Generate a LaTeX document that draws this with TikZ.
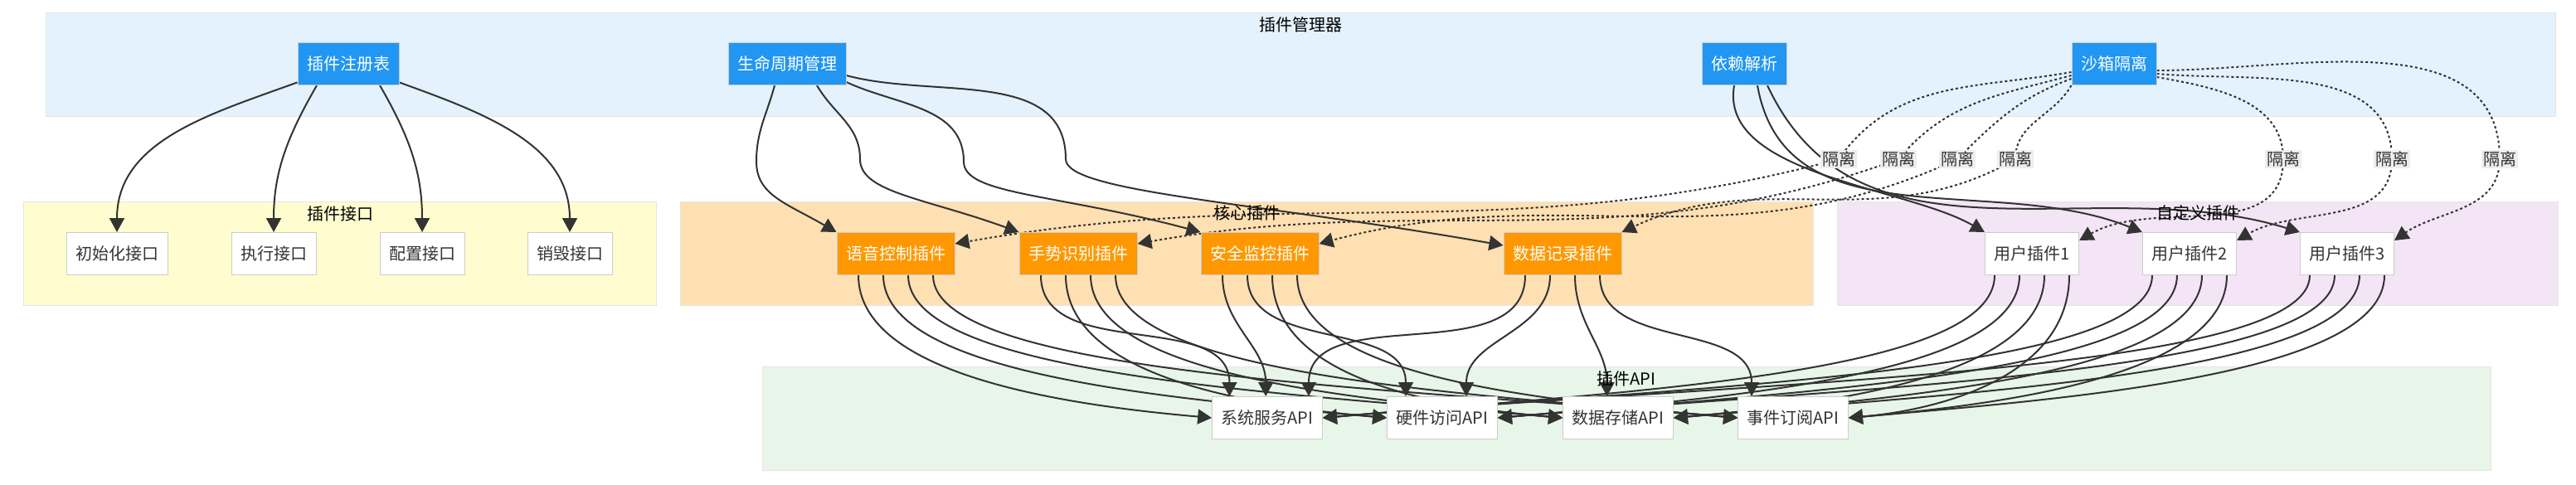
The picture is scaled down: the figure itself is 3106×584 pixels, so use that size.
\documentclass[tikz,border=0pt]{standalone}
\usepackage{fontspec}
\setmainfont{Noto Sans CJK SC}
\usetikzlibrary{arrows.meta}

\definecolor{mgrbg}{HTML}{E3F2FD}
\definecolor{itfbg}{HTML}{FFFDD0}
\definecolor{corebg}{HTML}{FFE0B2}
\definecolor{custbg}{HTML}{F3E5F5}
\definecolor{apibg}{HTML}{E8F5E9}
\definecolor{mgrblue}{HTML}{2196F3}
\definecolor{coreorange}{HTML}{FF9800}
\definecolor{linegray}{HTML}{333333}
\definecolor{lblbg}{HTML}{EDEDED}

\pgfdeclarelayer{bg}
\pgfdeclarelayer{edges}
\pgfsetlayers{bg,edges,main}

\tikzset{
  box/.style={draw=black!20, line width=0.5pt, minimum height=25.5pt, inner xsep=5.5pt, font=\fontsize{10}{12}\selectfont},
  mgr/.style={box, fill=mgrblue, text=white},
  core/.style={box, fill=coreorange, text=white},
  whitebox/.style={box, fill=white, text=linegray},
  cluster/.style={draw=black!10, line width=0.5pt},
  ctitle/.style={font=\fontsize{10}{12}\selectfont, text=black},
  arr/.style={draw=linegray, line width=1pt, -{Triangle[length=8.5pt,width=9pt]}},
  iso/.style={arr, dash pattern=on 1.5pt off 1.5pt},
  isolbl/.style={fill=lblbg, text=linegray, inner sep=1pt, font=\fontsize{10}{12}\selectfont}
}

\begin{document}
\begin{tikzpicture}[x=0.5pt, y=0.5pt]
\useasboundingbox (0,0) rectangle (3106,-584);

% groups
\begin{pgfonlayer}{bg}
  \draw[cluster, fill=mgrbg] (55,-15) rectangle (3081,-140);
  \draw[cluster, fill=itfbg] (28,-243) rectangle (791,-368);
  \draw[cluster, fill=corebg] (820,-243) rectangle (2186,-368);
  \draw[cluster, fill=custbg] (2215,-243) rectangle (3084,-368);
  \draw[cluster, fill=apibg] (919,-442) rectangle (3003,-567);
\end{pgfonlayer}
\node[ctitle] (tmgr) at (1568,-30) {插件管理器};
\node[ctitle] (titf) at (410,-258) {插件接口};
\node[ctitle] (tcore) at (1503,-257) {核心插件};
\node[ctitle] (tcust) at (2650,-257) {自定义插件};
\node[ctitle] (tapi) at (1961,-457) {插件API};

% manager
\node[mgr] (reg) at (420,-77) {插件注册表};
\node[mgr] (lc) at (949,-77) {生命周期管理};
\node[mgr] (dep) at (2103,-77) {依赖解析};
\node[mgr] (sb) at (2549,-77) {沙箱隔离};

% interfaces
\node[whitebox] (ini) at (141,-306) {初始化接口};
\node[whitebox] (exe) at (330,-306) {执行接口};
\node[whitebox] (cfg) at (509,-306) {配置接口};
\node[whitebox] (des) at (687,-306) {销毁接口};

% plugins
\node[core] (vc) at (1080,-306) {语音控制插件};
\node[core] (gs) at (1300,-306) {手势识别插件};
\node[core] (sm) at (1519,-306) {安全监控插件};
\node[core] (dr) at (1884,-306) {数据记录插件};
\node[whitebox] (u1) at (2450,-306) {用户插件1};
\node[whitebox] (u2) at (2640,-306) {用户插件2};
\node[whitebox] (u3) at (2830,-306) {用户插件3};

% apis
\node[whitebox] (sys) at (1528,-504) {系统服务API};
\node[whitebox] (hw) at (1739,-504) {硬件访问API};
\node[whitebox] (st) at (1951,-504) {数据存储API};
\node[whitebox] (ev) at (2162,-504) {事件订阅API};

% isolation labels
\node[isolbl] (l1) at (2217,-192) {隔离};
\node[isolbl] (l2) at (2289,-192) {隔离};
\node[isolbl] (l3) at (2360,-192) {隔离};
\node[isolbl] (l4) at (2430,-192) {隔离};
\node[isolbl] (r1) at (2753,-192) {隔离};
\node[isolbl] (r2) at (2884,-192) {隔离};
\node[isolbl] (r3) at (3014,-192) {隔离};

% bends of the lifecycle edges
\coordinate (bvc) at (912,-195);
\coordinate (bgs) at (1037,-192);
\coordinate (bsm) at (1162,-195);
\coordinate (bdr) at (1285,-192);

\begin{pgfonlayer}{edges}
  \draw[arr] (reg) to[out=200,in=90] (ini);
  \draw[arr] ([xshift=-19pt]reg.south) to[out=-120,in=90] (exe);
  \draw[arr] ([xshift=19pt]reg.south) to[out=-60,in=90] (cfg);
  \draw[arr] (reg) to[out=-20,in=90] (des);

  \draw[arr] ([xshift=-7.5pt]lc.south) to[out=-105,in=90] (bvc) to[out=-90,in=150,out distance=20pt,in distance=35pt] (vc.north west);
  \draw[arr] ([xshift=18pt]lc.south) to[out=-60,in=90] (bgs) to[out=-90,in=160,out distance=20pt,in distance=60pt] (gs.north west);
  \draw[arr] ([yshift=-11pt]lc.east) to[out=-25,in=90] (bsm) to[out=-90,in=165,out distance=20pt,in distance=90pt] (sm.north west);
  \draw[arr] ([yshift=-7pt]lc.east) to[out=-15,in=90] (bdr) to[out=-90,in=170,out distance=20pt,in distance=150pt] ([yshift=5pt]dr.west);

  \draw[arr] ([xshift=-6pt]dep.south) to[out=-100,in=150,looseness=0.8] (u1.north west);
  \draw[arr] ([xshift=8pt]dep.south) to[out=-80,in=158] (u2.north west);
  \draw[arr] ([xshift=14pt]dep.south) to[out=-65,in=163] (u3.north west);

  \draw[iso] ([yshift=-5pt]sb.west) to[out=190,in=55] (l1.center) to[out=195,in=10] ([yshift=6pt]vc.east);
  \draw[iso] ([yshift=-7pt]sb.west) to[out=195,in=50] (l2.center) to[out=200,in=10] ([yshift=6pt]gs.east);
  \draw[iso] ([yshift=-9pt]sb.west) to[out=200,in=45] (l3.center) to[out=205,in=15] ([yshift=6pt]sm.east);
  \draw[iso] (sb.south west) to[out=-120,in=90] (l4.center) to[out=-150,in=25] (dr.north east);
  \draw[iso] ([yshift=-8pt]sb.east) to[out=-10,in=90] (r1.center) to[out=-90,in=30] ([yshift=8pt]u1.east);
  \draw[iso] ([yshift=-6pt]sb.east) to[out=-5,in=90] (r2.center) to[out=-90,in=30] ([yshift=8pt]u2.east);
  \draw[iso] ([yshift=-4pt]sb.east) to[out=0,in=90] (r3.center) to[out=-90,in=35] ([yshift=8pt]u3.east);

  % every plugin uses every api
  \foreach \p/\px/\lim in {vc/1080/400,gs/1300/400,sm/1519/400,dr/1884/400,u1/2450/250,u2/2640/250,u3/2830/250}
    \foreach \a/\ax/\s in {sys/1528/-22.5,hw/1739/-7.5,st/1951/7.5,ev/2162/22.5}{
      \pgfmathtruncatemacro\dx{\px-\ax}
      \pgfmathsetmacro\far{0.2*abs(\dx)}
      \pgfmathsetmacro\off{max(-25,min(25,\dx/10))}
      \ifnum\dx<-\lim\relax
        \draw[arr] ([xshift=\s pt]\p.south) to[out=-90,in=175,out distance=60pt,in distance=\far pt] (\a.west);
      \else\ifnum\dx>\lim\relax
        \draw[arr] ([xshift=\s pt]\p.south) to[out=-90,in=5,out distance=60pt,in distance=\far pt] (\a.east);
      \else
        \draw[arr] ([xshift=\s pt]\p.south) to[out=-90,in=90] ([xshift=\off pt]\a.north);
      \fi\fi
    }
\end{pgfonlayer}

\end{tikzpicture}
\end{document}
